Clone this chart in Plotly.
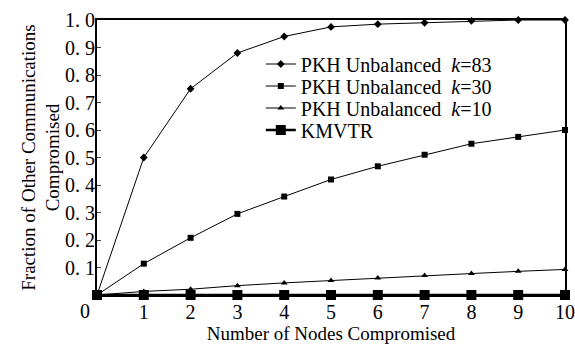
import plotly.graph_objects as go

nodes = [0, 1, 2, 3, 4, 5, 6, 7, 8, 9, 10]
k83 = [0, 0.50, 0.75, 0.88, 0.94, 0.975, 0.985, 0.99, 0.997, 1.0, 1.0]
k30 = [0, 0.114, 0.208, 0.295, 0.358, 0.42, 0.468, 0.51, 0.55, 0.575, 0.60]
k10 = [0, 0.013, 0.021, 0.034, 0.044, 0.053, 0.062, 0.071, 0.078, 0.086, 0.093]
kmvtr = [0, 0, 0, 0, 0, 0, 0, 0, 0, 0, 0]
yticks = [0.1, 0.2, 0.3, 0.4, 0.5, 0.6, 0.7, 0.8, 0.9, 1.0]
ytick_labels = ["0. 1", "0. 2", "0. 3", "0. 4", "0. 5", "0. 6", "0. 7", "0. 8", "0. 9", "1. 0"]
xticks = [1, 2, 3, 4, 5, 6, 7, 8, 9, 10]

FONT = "Times New Roman"
fig = go.Figure()
series = [
    ("PKH Unbalanced  <i>k</i>=83", k83, "diamond", 6, 1, "legend"),
    ("PKH Unbalanced  <i>k</i>=30", k30, "square", 6, 1, "legend2"),
    ("PKH Unbalanced  <i>k</i>=10", k10, "triangle-up", 6, 1, "legend3"),
    ("KMVTR", kmvtr, "square", 10, 2.5, "legend4"),
]
for name, ys, sym, size, lw, lg in series:
    fig.add_trace(go.Scatter(
        x=nodes, y=ys, name=name, mode="lines+markers",
        line=dict(color="black", width=lw),
        marker=dict(symbol=sym, size=size, color="black"),
        cliponaxis=False, legend=lg,
    ))

# legend rows, one per entry, 22 px apart
row_centers_px = [64, 86, 108, 130]
legends = {}
for i, c in enumerate(row_centers_px):
    key = "legend" if i == 0 else f"legend{i+1}"
    legends[key] = dict(x=0.35, y=(295 - c) / 275, xanchor="left", yanchor="middle",
                        bgcolor="rgba(0,0,0,0)", font=dict(family=FONT, size=20),
                        itemwidth=30)

fig.update_layout(
    width=575, height=344,
    margin=dict(l=97, r=10, t=20, b=49, autoexpand=False),
    plot_bgcolor="white", paper_bgcolor="white",
    font=dict(family=FONT, size=18, color="black"),
    showlegend=True,
    **legends,
    xaxis=dict(range=[0, 10], tickvals=xticks, ticktext=[str(v) for v in xticks],
               showgrid=False, zeroline=False, showline=True, linecolor="black",
               linewidth=2, mirror=True, ticks="inside", ticklen=0, automargin=False,
               ticklabelstandoff=-2,
               tickfont=dict(family=FONT, size=20),
               title=dict(text="Number of Nodes Compromised", font=dict(family=FONT, size=19), standoff=0)),
    yaxis=dict(range=[0, 1], tickvals=yticks, ticktext=ytick_labels,
               showgrid=False, zeroline=False, showline=True, linecolor="black",
               linewidth=2, mirror=True, ticks="inside", ticklen=4, tickwidth=1, automargin=False,
               ticklabelstandoff=-4,
               tickfont=dict(family=FONT, size=20),
               title=dict(text="Fraction of Other Communications<br>Compromised",
                          font=dict(family=FONT, size=19), standoff=0)),
)
fig.add_annotation(x=0, y=0, xref="x", yref="y", text="0", showarrow=False,
                   xanchor="center", yanchor="top", xshift=-12, yshift=-3,
                   font=dict(family=FONT, size=20))
fig.write_html("out.html")
